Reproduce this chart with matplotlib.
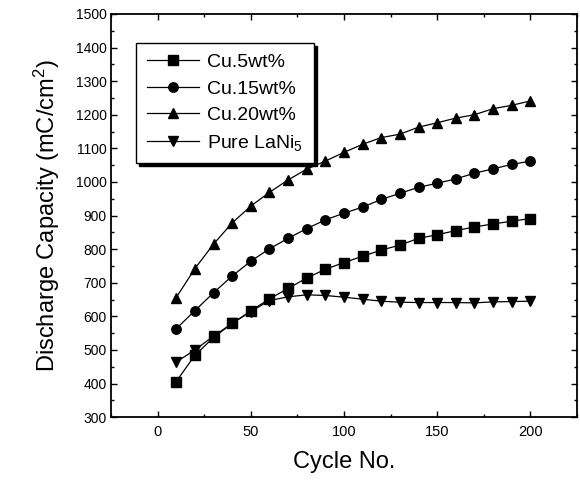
import matplotlib
matplotlib.use("Agg")
import matplotlib.pyplot as plt
from matplotlib.ticker import MultipleLocator

plt.rcParams['font.family'] = ['Liberation Sans', 'DejaVu Sans']
plt.rcParams['mathtext.fontset'] = 'custom'
plt.rcParams['mathtext.rm'] = 'Liberation Sans'
plt.rcParams['mathtext.it'] = 'Liberation Sans:italic'

cycles = [10, 20, 30, 40, 50, 60, 70, 80, 90, 100,
          110, 120, 130, 140, 150, 160, 170, 180, 190, 200]
cu5 = [406, 484, 537, 579, 616, 652, 683, 714, 740, 760,
       779, 797, 812, 832, 843, 855, 866, 875, 883, 891]
cu15 = [563, 617, 670, 720, 764, 801, 832, 861, 887, 907,
        925, 948, 966, 984, 996, 1009, 1026, 1039, 1052, 1062]
cu20 = [656, 742, 815, 878, 928, 969, 1006, 1038, 1062, 1088,
        1112, 1132, 1142, 1163, 1176, 1190, 1200, 1218, 1228, 1241]
pure = [464, 500, 541, 579, 614, 647, 658, 664, 662, 657,
        651, 645, 642, 641, 641, 641, 640, 643, 644, 645]

labels = ['Cu.5wt%', 'Cu.15wt%', 'Cu.20wt%', r'Pure LaNi$_5$']
markers = ['s', 'o', '^', 'v']
series = [cu5, cu15, cu20, pure]

fig = plt.figure(figsize=(5.8, 4.8), dpi=100)
ax = fig.add_axes([0.1914, 0.131, 0.8034, 0.840])

for vals, m, lab in zip(series, markers, labels):
    ax.plot(cycles, vals, color='black', lw=0.9, marker=m, markersize=6.8,
            markerfacecolor='black', markeredgecolor='black', label=lab)

ax.set_xlim(-25, 225)
ax.set_ylim(300, 1500)
ax.xaxis.set_major_locator(MultipleLocator(50))
ax.xaxis.set_minor_locator(MultipleLocator(25))
ax.yaxis.set_major_locator(MultipleLocator(100))
ax.yaxis.set_minor_locator(MultipleLocator(50))
ax.tick_params(which='both', direction='in', top=True, right=True, width=1.0)
ax.tick_params(which='major', length=4.5)
ax.tick_params(which='minor', length=2.5)
ax.tick_params(axis='y', labelsize=10, pad=3)
ax.tick_params(axis='x', labelsize=10.5, pad=6)
for s in ax.spines.values():
    s.set_linewidth(1.3)

ax.set_xlabel('Cycle No.', fontsize=17, labelpad=8)
ax.set_ylabel('Discharge Capacity (mC/cm$^2$)', fontsize=17, labelpad=10)

leg = ax.legend(loc='upper left', bbox_to_anchor=(0.054, 0.928), borderaxespad=0,
                fontsize=14, frameon=True, fancybox=False, edgecolor='black',
                shadow={'color': 'black', 'alpha': 1}, handlelength=2.7,
                labelspacing=0.45, handletextpad=0.4, borderpad=0.55)
leg.get_frame().set_linewidth(1.0)
leg.set_zorder(5)

fig.savefig('out.png', dpi=100)
